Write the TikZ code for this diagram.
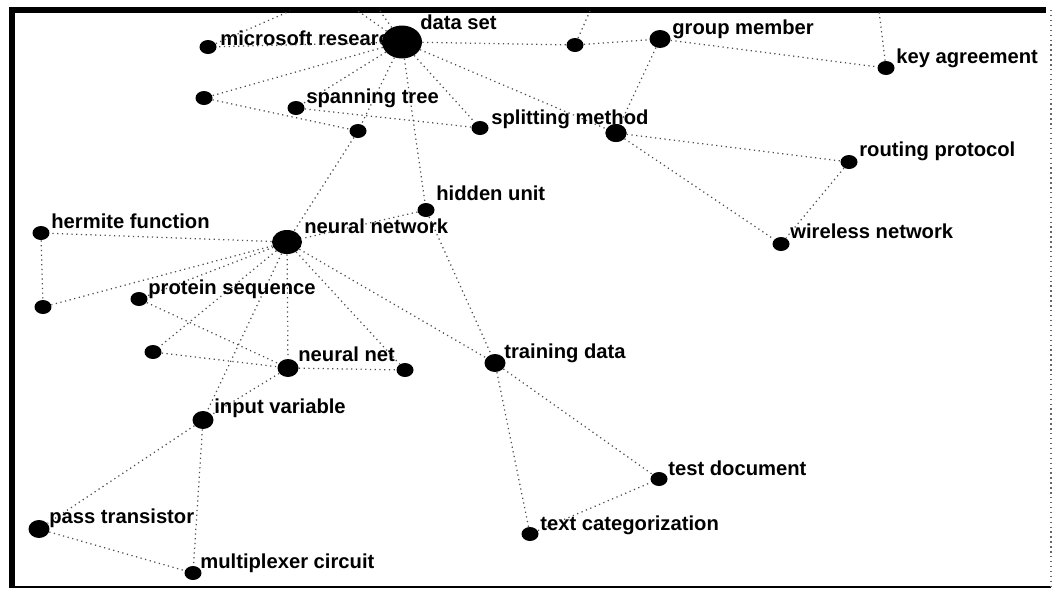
\documentclass[tikz,border=0pt]{standalone}
\usepackage{fontspec}
\setmainfont{Liberation Sans}
\usetikzlibrary{shapes.geometric}

\tikzset{
  dot/.style={ellipse, fill=black, inner sep=0pt, minimum width=0.34cm, minimum height=0.28cm},
  midot/.style={dot, minimum width=0.42cm, minimum height=0.36cm},
  bigdot/.style={dot, minimum width=0.6cm, minimum height=0.48cm},
  hubdot/.style={dot, minimum width=0.8cm, minimum height=0.66cm},
  lbl/.style={font=\bfseries\fontsize{11.5}{13}\selectfont, inner sep=0pt, anchor=base west},
  link/.style={black!70, line width=0.7pt, dotted}
}

\begin{document}
\begin{tikzpicture}[x=0.02cm, y=-0.02cm]
                \useasboundingbox (0, 0) rectangle (1054, 592);
                % Frame
                \draw [line width=3.4pt] (12, 588) -- (12, 10) -- (1046, 10);
                \draw [line width=1.6pt] (12, 587) -- (1051, 587);
                \draw [black!60, dotted, line width=0.8pt] (1051, 10) -- (1051, 587);
                % Label hidden behind the data set node
                \node [lbl] (msr-l) at (220, 45) {microsoft research};
                % Nodes
                \node [hubdot] (ds) at (402, 42) {};
                \node [dot] (msr) at (208, 47) {};
                \node [dot] (ua) at (575, 45) {};
                \node [midot] (gm) at (660, 39) {};
                \node [dot] (ka) at (886, 68) {};
                \node [dot] (ub) at (204, 98) {};
                \node [dot] (st) at (296, 108) {};
                \node [dot] (uc) at (358, 131) {};
                \node [dot] (sm) at (480, 128) {};
                \node [midot] (ud) at (616, 133) {};
                \node [dot] (rp) at (849, 162) {};
                \node [dot] (hu) at (426, 210) {};
                \node [dot] (wn) at (781, 244) {};
                \node [dot] (hf) at (41, 233) {};
                \node [bigdot] (nn) at (287, 242) {};
                \node [dot] (ue) at (43, 307) {};
                \node [dot] (ps) at (139, 299) {};
                \node [dot] (uf) at (153, 352) {};
                \node [midot] (net) at (288, 368) {};
                \node [dot] (ug) at (405, 370) {};
                \node [midot] (td) at (495, 363) {};
                \node [midot] (iv) at (203, 420) {};
                \node [dot] (doc) at (659, 479) {};
                \node [midot] (pt) at (39, 529) {};
                \node [dot] (tc) at (530, 534) {};
                \node [dot] (mc) at (193, 573) {};
                % Free ends above the frame
                \coordinate (ds-t1) at (358, 11);
                \coordinate (ds-t2) at (380, 11);
                \coordinate (msr-t) at (290, 11);
                \coordinate (ua-t) at (590, 11);
                \coordinate (ka-t) at (879, 11);
                % Links
                \draw [link] (ds) -- (msr);
                \draw [link] (ds) -- (ub);
                \draw [link] (ds) -- (st);
                \draw [link] (ds) -- (uc);
                \draw [link] (ds) -- (hu);
                \draw [link] (ds) -- (sm);
                \draw [link] (ds) -- (ud);
                \draw [link] (ds) -- (ua);
                \draw [link] (ds) -- (ds-t1);
                \draw [link] (ds) -- (ds-t2);
                \draw [link] (msr) -- (msr-t);
                \draw [link] (ua) -- (gm);
                \draw [link] (ua) -- (ua-t);
                \draw [link] (gm) -- (ka);
                \draw [link] (gm) -- (ud);
                \draw [link] (ka) -- (ka-t);
                \draw [link] (ud) -- (rp);
                \draw [link] (ud) -- (wn);
                \draw [link] (rp) -- (wn);
                \draw [link] (ub) -- (uc);
                \draw [link] (st) -- (sm);
                \draw [link] (uc) -- (nn);
                \draw [link] (hu) -- (nn);
                \draw [link] (hu) -- (td);
                \draw [link] (nn) -- (hf);
                \draw [link] (nn) -- (ue);
                \draw [link] (nn) -- (ps);
                \draw [link] (nn) -- (uf);
                \draw [link] (nn) -- (iv);
                \draw [link] (nn) -- (net);
                \draw [link] (nn) -- (ug);
                \draw [link] (nn) -- (td);
                \draw [link] (hf) -- (ue);
                \draw [link] (ps) -- (net);
                \draw [link] (uf) -- (net);
                \draw [link] (net) -- (ug);
                \draw [link] (net) -- (iv);
                \draw [link] (iv) -- (pt);
                \draw [link] (iv) -- (mc);
                \draw [link] (pt) -- (mc);
                \draw [link] (td) -- (doc);
                \draw [link] (td) -- (tc);
                \draw [link] (tc) -- (doc);
                % Labels
                \node [lbl] (ds-l) at (420, 29) {data set};
                \node [lbl] (gm-l) at (672, 34) {group member};
                \node [lbl] (ka-l) at (896, 63) {key agreement};
                \node [lbl] (st-l) at (306, 103) {spanning tree};
                \node [lbl] (sm-l) at (491, 124) {splitting method};
                \node [lbl] (rp-l) at (859, 156) {routing protocol};
                \node [lbl] (hu-l) at (436, 200) {hidden unit};
                \node [lbl] (wn-l) at (790, 238) {wireless network};
                \node [lbl] (hf-l) at (51, 228) {hermite function};
                \node [lbl] (nn-l) at (304, 233) {neural network};
                \node [lbl] (ps-l) at (148, 294) {protein sequence};
                \node [lbl] (net-l) at (298, 361) {neural net};
                \node [lbl] (td-l) at (504, 358) {training data};
                \node [lbl] (iv-l) at (214, 413) {input variable};
                \node [lbl] (doc-l) at (668, 475) {test document};
                \node [lbl] (pt-l) at (49, 523) {pass transistor};
                \node [lbl] (tc-l) at (540, 530) {text categorization};
                \node [lbl] (mc-l) at (200, 568) {multiplexer circuit};
                % Node over the hidden label
                \fill [black] (ud) ellipse (0.21cm and 0.18cm);
            \end{tikzpicture}
\end{document}
